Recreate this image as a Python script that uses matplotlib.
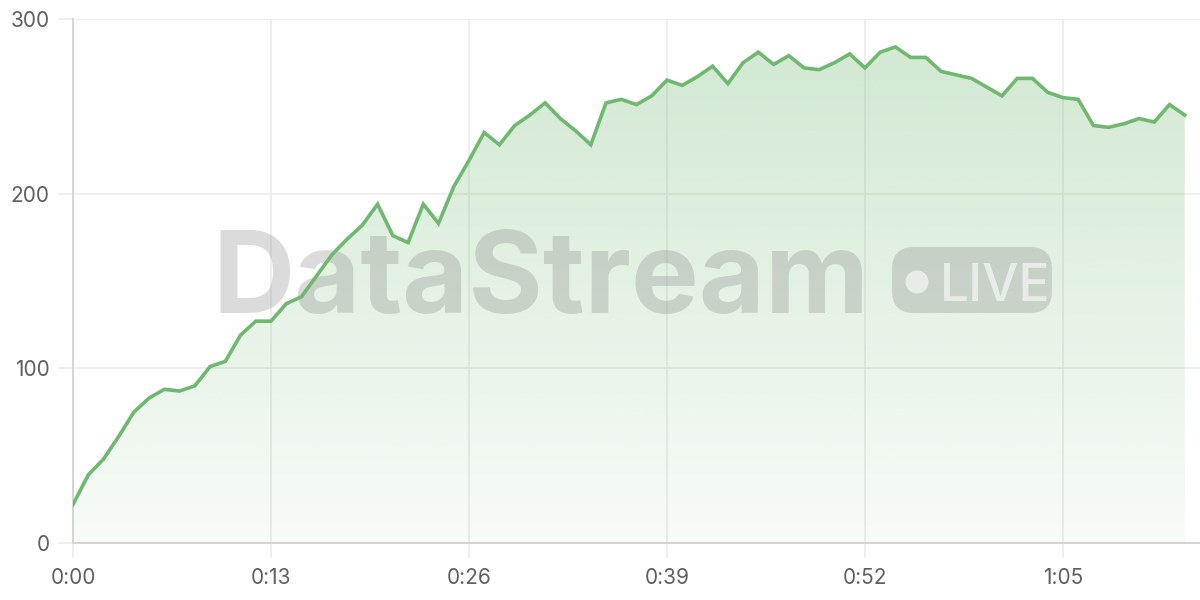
import numpy as np
import matplotlib
matplotlib.use("Agg")
import matplotlib.pyplot as plt
from matplotlib.transforms import IdentityTransform
from matplotlib.patches import FancyBboxPatch, Circle

# ---- data ----
values = [22, 39, 48, 61, 75, 83, 88, 87, 90, 101,
          104, 119, 127, 127, 137, 141, 153, 165, 174, 182,
          194, 176, 172, 194, 183, 204, 219, 235, 228, 239,
          245, 252, 243, 236, 228, 252, 254, 251, 256, 265,
          262, 267, 273, 263, 275, 281, 274, 279, 272, 271,
          275, 280, 272, 281, 284, 278, 278, 270, 268, 266,
          261, 256, 266, 266, 258, 255, 254, 239, 238, 240,
          243, 241, 251, 245]
seconds = list(range(len(values)))
x_ticks = [0, 13, 26, 39, 52, 65]
x_tick_labels = ["0:00", "0:13", "0:26", "0:39", "0:52", "1:05"]
y_ticks = [0, 100, 200, 300]
y_tick_labels = ["0", "100", "200", "300"]

LINE = "#6fb870"
GRID = "#ebebeb"
AXIS = "#d4d4d4"
LABEL = "#5f5f5f"

plt.rcParams['font.family'] = ['Inter', 'DejaVu Sans']

fig = plt.figure(figsize=(12, 6), dpi=100)
ax = fig.add_axes([73 / 1200, 57 / 600, 1 - 73 / 1200, (543 - 19) / 600])
ax.set_xlim(0, 74)
ax.set_ylim(0, 300)

x = np.array(seconds, dtype=float)
y = np.array(values, dtype=float)

# gradient fill
grad = np.linspace(0.05, 0.33, 256).reshape(-1, 1)
rgba = np.zeros((256, 1, 4))
c = matplotlib.colors.to_rgb(LINE)
rgba[..., 0] = c[0]
rgba[..., 1] = c[1]
rgba[..., 2] = c[2]
rgba[..., 3] = grad
img = ax.imshow(rgba, extent=[0, 74, 0, 300], origin="lower", aspect="auto", zorder=1)
poly = ax.fill_between(x, 0, y, facecolor="none", edgecolor="none")
clip = matplotlib.patches.PathPatch(poly.get_paths()[0], transform=ax.transData,
                                    facecolor="none", edgecolor="none")
ax.add_patch(clip)
img.set_clip_path(clip)
ax.set_xlim(0, 74)
ax.set_ylim(0, 300)

ax.plot(x, y, color=LINE, lw=2.6, zorder=5, solid_joinstyle="miter")

# grid & spines
ax.set_xticks(x_ticks)
ax.set_xticklabels(x_tick_labels)
ax.set_yticks(y_ticks)
ax.set_yticklabels(y_tick_labels)
ax.grid(True, color=GRID, lw=1.2, zorder=0)
ax.set_axisbelow(True)
for s in ["top", "right"]:
    ax.spines[s].set_visible(False)
for s in ["left", "bottom"]:
    ax.spines[s].set_color(AXIS)
    ax.spines[s].set_linewidth(1.4)
ax.tick_params(axis="both", length=11, width=1.2, color=GRID,
               labelsize=15, labelcolor=LABEL)
ax.tick_params(axis="y", pad=6)
ax.tick_params(axis="x", pad=7)
ax.patch.set_alpha(0)

# watermark
H = 600
ident = IdentityTransform()
ax.text(212, H - 313, "DataStream", transform=ident, fontsize=82,
        fontweight="bold", color="#808080", alpha=0.28, ha="left",
        va="baseline", zorder=3)
pill = FancyBboxPatch((892, H - 313), 160, 66,
                      boxstyle="round,pad=0,rounding_size=22",
                      transform=ident, facecolor="#808080", alpha=0.28,
                      edgecolor="none", zorder=3)
ax.add_artist(pill)
dot = Circle((917, H - 282), 11.5, transform=ident, facecolor="white",
             alpha=0.6, edgecolor="none", zorder=4)
ax.add_artist(dot)
ax.text(940, H - 301, "LIVE", transform=ident, fontsize=37,
        fontweight="medium", color="white", alpha=0.6, ha="left",
        va="baseline", zorder=4)

fig.savefig("out.png", dpi=100)
